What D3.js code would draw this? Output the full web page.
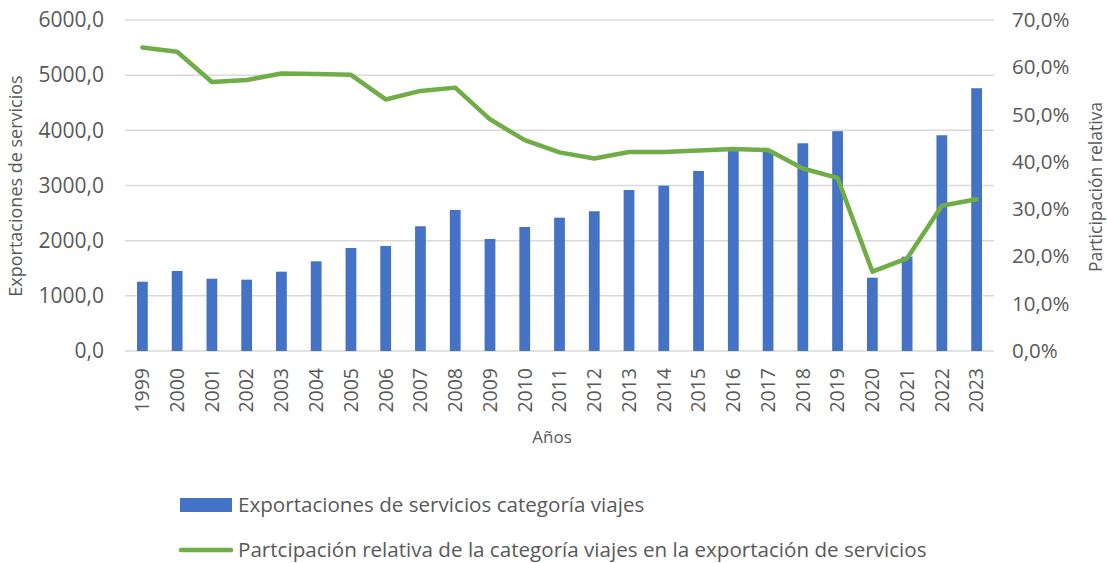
<!DOCTYPE html>
<html>
<head>
<meta charset="utf-8">
<script src="https://cdn.jsdelivr.net/npm/d3@7"></script>
<style>
    body { margin:0; background:#fff; }
    text { font-family: "Open Sans", Lato, sans-serif; fill:#595959; }
    .grid line { stroke:#d9d9d9; stroke-width:1.5px; }
</style>
</head>
<body>
<div id="container"></div>
<script>
    // data
    var years = ["1999","2000","2001","2002","2003","2004","2005","2006","2007","2008","2009","2010",
                 "2011","2012","2013","2014","2015","2016","2017","2018","2019","2020","2021","2022","2023"];
    var exportaciones = [1256,1450,1311,1293,1438,1626,1868,1904,2261,2557,2031,2248,
                         2417,2533,2919,2997,3264,3690,3640,3765,3985,1329,1710,3911,4763];
    var participacion = [0.642,0.633,0.569,0.573,0.587,0.586,0.584,0.532,0.550,0.557,0.490,0.446,
                         0.420,0.407,0.421,0.421,0.424,0.427,0.425,0.386,0.366,0.168,0.196,0.307,0.321];
    var leftTicks = [0,1000,2000,3000,4000,5000,6000];
    var rightTicks = [0,0.1,0.2,0.3,0.4,0.5,0.6,0.7];

    var W = 1107, H = 563;
    var pLeft = 125, pRight = 994, pTop = 20, pBottom = 351;

    var svg = d3.select("#container").append("svg")
        .attr("width", W).attr("height", H);

    var x = d3.scaleBand().domain(years).range([pLeft, pRight]).paddingInner(0.69).paddingOuter(0.345);
    var y = d3.scaleLinear().domain([0, 6000]).range([pBottom, pTop]);
    var y2 = d3.scaleLinear().domain([0, 0.7]).range([pBottom, pTop]);

    var fmt = function(d){ return d3.format(".1f")(d).replace(".", ","); };
    var fmtP = function(d){ return d3.format(".1f")(d*100).replace(".", ",") + "%"; };

    // gridlines
    svg.append("g").attr("class", "grid")
        .selectAll("line").data(leftTicks).enter().append("line")
        .attr("x1", pLeft).attr("x2", pRight)
        .attr("y1", function(d){ return y(d); }).attr("y2", function(d){ return y(d); });

    // left axis
    var ax = svg.append("g").attr("transform", "translate(" + (pLeft - 21) + ",0)")
        .call(d3.axisLeft(y).tickValues(leftTicks).tickFormat(fmt).tickSize(0).tickPadding(0));
    ax.select(".domain").remove();
    ax.selectAll("text").style("font-size", "21px").style("font-family", "'Open Sans'").attr("fill", "#595959");

    // right axis
    var ax2 = svg.append("g").attr("transform", "translate(" + (pRight + 18) + ",0)")
        .call(d3.axisRight(y2).tickValues(rightTicks).tickFormat(fmtP).tickSize(0).tickPadding(0));
    ax2.select(".domain").remove();
    ax2.selectAll("text").style("font-size", "20.5px").style("font-family", "'Open Sans'").attr("fill", "#595959");

    // bars
    svg.selectAll(".bar").data(years).enter().append("rect")
        .attr("class", "bar")
        .attr("x", function(d){ return x(d); })
        .attr("width", x.bandwidth())
        .attr("y", function(d, i){ return y(exportaciones[i]); })
        .attr("height", function(d, i){ return pBottom - y(exportaciones[i]); })
        .attr("fill", "#4472c4");

    // line
    var line = d3.line()
        .x(function(d, i){ return x(years[i]) + x.bandwidth()/2; })
        .y(function(d){ return y2(d); });
    svg.append("path").datum(participacion)
        .attr("d", line)
        .attr("fill", "none")
        .attr("stroke", "#70ad47")
        .attr("stroke-width", 4.5)
        .attr("stroke-linejoin", "round")
        .attr("stroke-linecap", "round");

    // x labels
    var xa = svg.append("g").attr("transform", "translate(0," + (pBottom + 17) + ")")
        .call(d3.axisBottom(x).tickSize(0));
    xa.select(".domain").remove();
    xa.selectAll("text")
        .style("font-size", "19.5px").style("font-family", "'Open Sans'").attr("fill", "#595959")
        .attr("text-anchor", "end")
        .attr("transform", "rotate(-90)")
        .attr("x", 0).attr("y", 0).attr("dy", "0.35em");

    // axis titles
    svg.append("text").attr("x", 552).attr("y", 443)
        .attr("text-anchor", "middle").style("font-size", "17px").text("Años");
    svg.append("text")
        .attr("transform", "translate(22,186) rotate(-90)")
        .attr("text-anchor", "middle").style("font-size", "18px")
        .text("Exportaciones de servicios");
    svg.append("text")
        .attr("transform", "translate(1102,187) rotate(-90)")
        .attr("text-anchor", "middle").style("font-size", "17.5px")
        .text("Participación relativa");

    // legend
    var lg = svg.append("g");
    lg.append("rect").attr("x", 180).attr("y", 498).attr("width", 52).attr("height", 14).attr("fill", "#4472c4");
    lg.append("text").attr("x", 238).attr("y", 505).attr("dy", "0.35em").style("font-size", "20.6px")
        .text("Exportaciones de servicios categoría viajes");
    lg.append("line").attr("x1", 181).attr("x2", 231).attr("y1", 550).attr("y2", 550)
        .attr("stroke", "#70ad47").attr("stroke-width", 4.5).attr("stroke-linecap", "round");
    lg.append("text").attr("x", 238).attr("y", 550).attr("dy", "0.35em").style("font-size", "20.6px")
        .text("Partcipación relativa de la categoría viajes en la exportación de servicios");
</script>
</body>
</html>
